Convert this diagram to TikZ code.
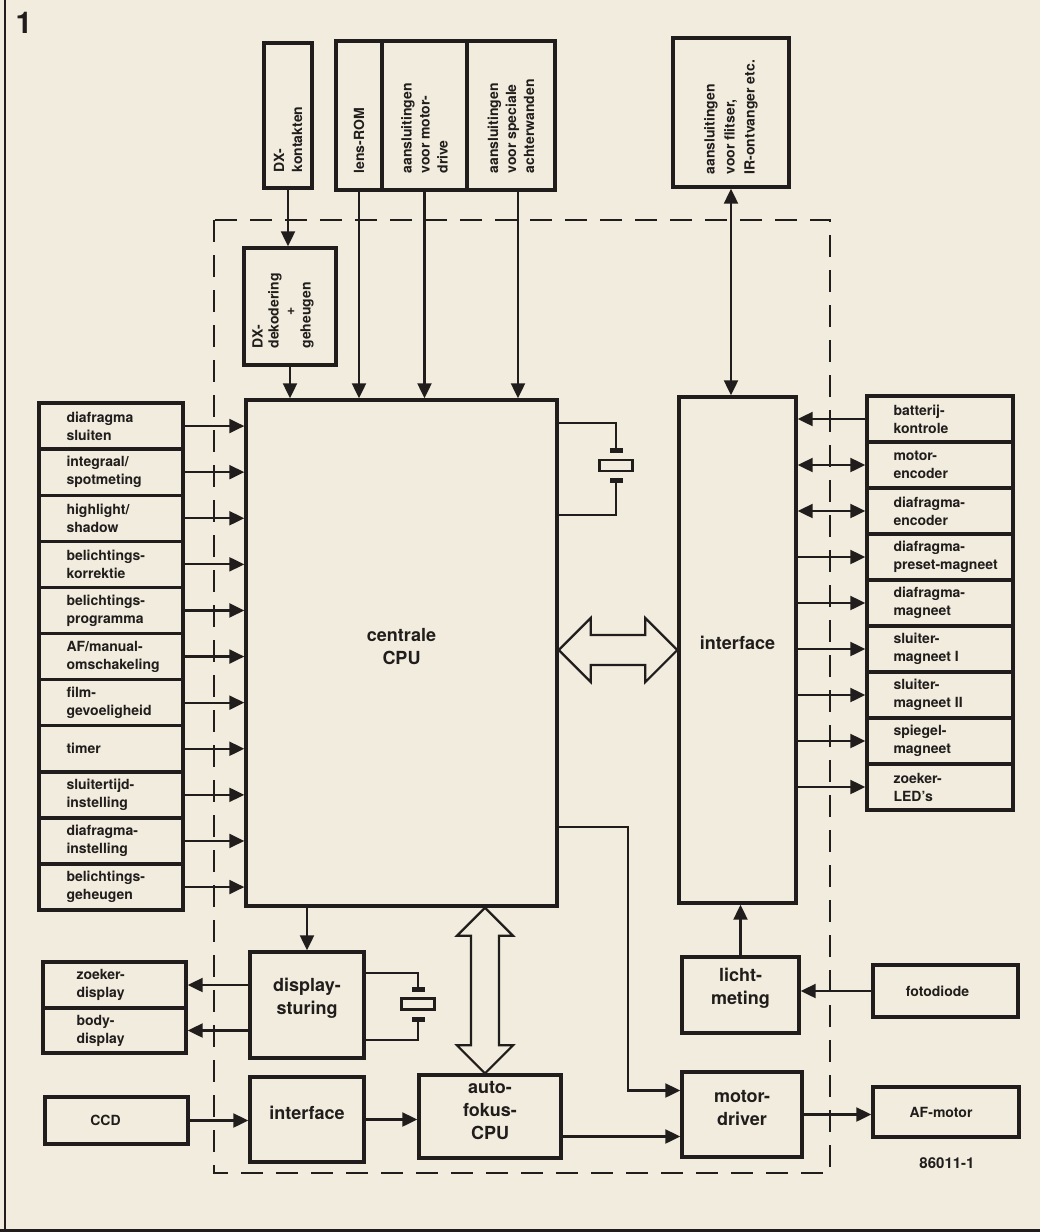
\documentclass[tikz,border=0pt]{standalone}
\usepackage{fontspec}
\setmainfont{TeX Gyre Heros}
\usepackage{calc}
\usetikzlibrary{arrows.meta,calc,fit}
\definecolor{paper}{RGB}{241,236,221}
\definecolor{ink}{RGB}{32,29,28}
\tikzset{
  box/.style={draw=ink,line width=3.4pt,inner sep=0pt},
  sm/.style={font=\bfseries\fontsize{14}{18}\selectfont,text=ink,inner sep=0pt},
  bigt/.style={font=\bfseries\fontsize{18}{23}\selectfont,text=ink,align=left},
  rot/.style={sm,rotate=90,anchor=west,align=left},
  conn/.style={draw=ink,line width=2.2pt},
  arr/.style={conn,->},
  rarr/.style={conn,<-},
  darr/.style={conn,<->},
  hollow/.style={draw=ink,line width=2.2pt,fill=paper,line join=miter},
  dashbox/.style={draw=ink,line width=2.2pt,dash pattern=on 22pt off 13pt},
  xtal/.pic={
    \fill[ink] (-6.5,-17.5) rectangle (6.5,-12.5);
    \draw[ink,line width=2.6pt] (-16.5,-5.5) rectangle (16.5,5.5);
    \fill[ink] (-6.5,12.5) rectangle (6.5,17.5);
    \coordinate (-top) at (0,-17.5);
    \coordinate (-bot) at (0,17.5);
  }
}
\begin{document}
\begin{tikzpicture}[x=1pt,y=-1pt,>={Triangle[length=15pt,width=14pt]}]
\useasboundingbox (0,0) rectangle (1040,1232);
\fill[paper] (0,0) rectangle (1040,1232);
% page edges
\draw[ink,line width=2pt] (5,0) -- (5,1232);
\draw[ink,line width=3pt] (0,1230) -- (1040,1230);
% figure number
\node[font=\bfseries\fontsize{30}{30}\selectfont,text=ink,inner sep=0pt] (fignum) at (24,23) {1};
% dashed camera body outline
\draw[dashbox] (214,220) rectangle (830,1173);

% top boxes
\node[box,fit={(264,43) (312,188)}] (dxk) {};
\node[rot] at ([yshift=17pt]dxk.south) {DX-\\kontakten};
\node[box,fit={(336,41) (382,190)}] (lens) {};
\node[rot] at ([yshift=18pt]lens.south) {lens-ROM};
\node[box,fit={(382,41) (467,190)}] (mot) {};
\node[rot] at ([yshift=18pt]mot.south) {aansluitingen\\voor motor-\\drive};
\node[box,fit={(467,41) (555,190)}] (spec) {};
\node[rot] at ([yshift=18pt]spec.south) {aansluitingen\\voor speciale\\achterwanden};
\node[box,fit={(673,38) (789,187)}] (fl) {};
\node[rot,font=\bfseries\fontsize{14}{20}\selectfont] at ([yshift=14pt]fl.south) {aansluitingen\\voor flitser,\\IR-ontvanger etc.};

\node[box,fit={(244,248) (336,365)}] (dxd) {};
\node[rot,font=\bfseries\fontsize{14}{16}\selectfont] at ([xshift=-7pt,yshift=18pt]dxd.south) {DX-\\dekodering\\\makebox[\widthof{dekodering}]{+}\\geheugen};

% central blocks
\node[box,bigt,fit={(246,400) (557,906)}] (cpu) {centrale\\CPU};
\node[box,bigt,fit={(679,397) (796,903)}] (iface) {interface};

% left input boxes
\foreach \t [count=\i] in {{diafragma\\sluiten},{integraal/\\spotmeting},{highlight/\\shadow},{belichtings-\\korrektie},{belichtings-\\programma},{AF/manual-\\omschakeling},{film-\\gevoeligheid},{timer},{sluitertijd-\\instelling},{diafragma-\\instelling},{belichtings-\\geheugen}}{
  \node[box,fit={(39,{403+46.1*(\i-1)}) (183,{403+46.1*\i})}] (l\i) {};
  \node[sm,anchor=west,align=left] at ([xshift=29pt]l\i.west) {\t};
  \draw[arr] (l\i.east) -- (l\i.east -| cpu.west);
}

% right boxes
\foreach \t [count=\i] in {{batterij-\\kontrole},{motor-\\encoder},{diafragma-\\encoder},{diafragma-\\preset-magneet},{diafragma-\\magneet},{sluiter-\\magneet I},{sluiter-\\magneet II},{spiegel-\\magneet},{zoeker-\\LED's}}{
  \node[box,fit={(867,{396+46*(\i-1)}) (1013,{396+46*\i})}] (r\i) {};
  \node[sm,anchor=west,align=left] at ([xshift=28pt]r\i.west) {\t};
}
\draw[rarr] (iface.east |- r1.west) -- (r1.west);
\draw[darr] (iface.east |- r2.west) -- (r2.west);
\draw[darr] (iface.east |- r3.west) -- (r3.west);
\foreach \i in {4,...,9} {\draw[arr] (iface.east |- r\i.west) -- (r\i.west);}

% lower blocks
\node[box,fit={(43,962) (186,1008)}] (zd) {};
\node[sm,anchor=west,align=left] at ([xshift=35pt]zd.west) {zoeker-\\display};
\node[box,fit={(43,1008) (186,1053)}] (bd) {};
\node[sm,anchor=west,align=left] at ([xshift=35pt]bd.west) {body-\\display};
\node[box,bigt,fit={(250,952) (364,1058)}] (disp) {display-\\sturing};
\node[box,fit={(45,1097) (188,1144)}] (ccd) {};
\node[sm] at ([xshift=-11pt]ccd.center) {CCD};
\node[box,bigt,fit={(250,1077) (364,1162)}] (ifb) {interface};
\node[box,bigt,fit={(419,1075) (561,1158)}] (af) {auto-\\fokus-\\CPU};
\node[box,bigt,fit={(682,957) (799,1033)}] (lm) {licht-\\meting};
\node[box,bigt,fit={(682,1072) (802,1157)}] (md) {motor-\\driver};
\node[box,fit={(873,965) (1018,1017)}] (fd) {};
\node[sm] at ([xshift=-8pt]fd.center) {fotodiode};
\node[box,fit={(873,1087) (1019,1137)}] (afm) {};
\node[sm] at ([xshift=-5pt]afm.center) {AF-motor};
\node[sm,font=\bfseries\fontsize{15}{18}\selectfont] (code) at (947,1163) {86011-1};

% top connectors
\draw[arr] (dxk.south) -- (dxk.south |- dxd.north);
\draw[arr] (dxd.south) -- (dxd.south |- cpu.north);
\draw[arr] (lens.south) -- (lens.south |- cpu.north);
\draw[arr] (mot.south) -- (mot.south |- cpu.north);
\draw[arr] ([xshift=7pt]spec.south) -- ([xshift=7pt]spec.south |- cpu.north);
\draw[darr] (fl.south) -- (fl.south |- iface.north);

% crystals
\pic (xa) at (616,465.5) {xtal};
\coordinate (xa1) at (616,423);
\coordinate (xa2) at (616,515);
\draw[conn] (xa1 -| cpu.east) -- (xa1) -- (xa-top);
\draw[conn] (xa-bot) -- (xa2) -- (xa2 -| cpu.east);
\pic (xb) at (418,1004) {xtal};
\coordinate (xb1) at (418,973);
\coordinate (xb2) at (418,1040);
\draw[conn] (xb1 -| disp.east) -- (xb1) -- (xb-top);
\draw[conn] (xb-bot) -- (xb2) -- (xb2 -| disp.east);

% lower connectors
\draw[arr] (disp.north |- cpu.south) -- (disp.north);
\draw[arr] (disp.west |- zd.east) -- (zd.east);
\draw[arr] (disp.west |- bd.east) -- (bd.east);
\draw[arr] (ccd.east) -- (ccd.east -| ifb.west);
\draw[arr] (ifb.east) -- (ifb.east -| af.west);
\draw[arr] ([yshift=-20pt]af.east) -- ([yshift=-20pt]af.east -| md.west);
\coordinate (cm) at (628,827);
\draw[arr] (cm -| cpu.east) -- (cm) |- ([yshift=24pt]md.west);
\draw[arr] (lm.north) -- (lm.north |- iface.south);
\draw[arr] (fd.west) -- (fd.west -| lm.east);
\draw[arr] (md.east) -- (md.east -| afm.west);

% hollow bus arrows
\coordinate (hl) at (cpu.east |- iface.center);
\coordinate (hr) at (iface.west |- iface.center);
\draw[hollow] (hl) -- ($(hl)+(32,-32)$) -- ($(hl)+(32,-15)$) -- ($(hr)+(-32,-15)$) -- ($(hr)+(-32,-32)$) -- (hr)
  -- ($(hr)+(-32,32)$) -- ($(hr)+(-32,15)$) -- ($(hl)+(32,15)$) -- ($(hl)+(32,32)$) -- cycle;
\coordinate (vb) at ([xshift=-5pt]af.north);
\coordinate (vt) at (vb |- cpu.south);
\draw[hollow] (vt) -- ($(vt)+(28,28)$) -- ($(vt)+(14,28)$) -- ($(vb)+(14,-28)$) -- ($(vb)+(28,-28)$) -- (vb)
  -- ($(vb)+(-28,-28)$) -- ($(vb)+(-14,-28)$) -- ($(vt)+(-14,28)$) -- ($(vt)+(-28,28)$) -- cycle;
\end{tikzpicture}
\end{document}
